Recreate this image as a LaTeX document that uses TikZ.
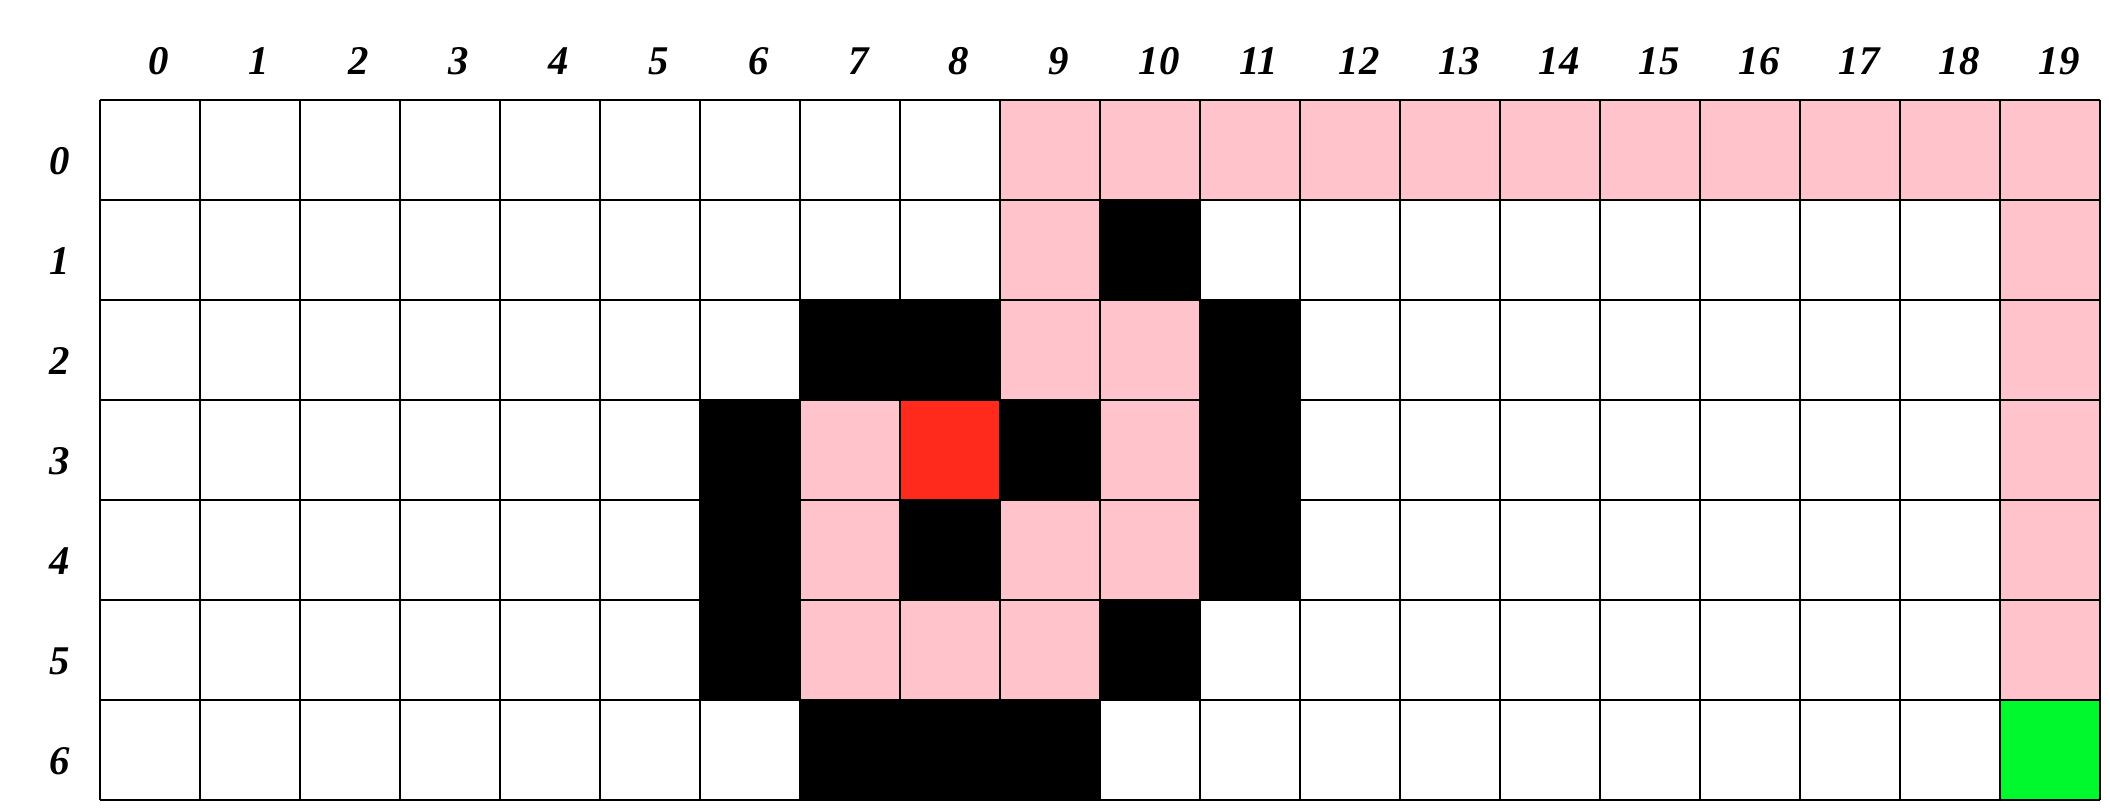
\documentclass[tikz,border=0pt]{standalone}
\usepackage{fontspec}
\setmainfont{Liberation Serif}
\definecolor{mazePink}{HTML}{FFC3CB}
\definecolor{mazeRed}{HTML}{FF2A1C}
\definecolor{mazeGreen}{HTML}{00F92C}
\tikzset{
  mazeLine/.style={
    draw=black,
    line width=0.6pt
  },
  mazeLabel/.style={
    font=\fontsize{11.6}{14}\selectfont\bfseries\itshape,
    inner sep=0pt,
    text=black
  },
  mazePath/.style={fill=mazePink},
  mazeWall/.style={fill=black},
  mazeStart/.style={fill=mazeRed},
  mazeGoal/.style={fill=mazeGreen}
}

\begin{document}
\begin{tikzpicture}[x=1cm,y=-1cm]
\useasboundingbox (0,0) rectangle (21.1,8.1);

% Path cells (column/row).
\foreach \c/\r in {9/0,10/0,11/0,12/0,13/0,14/0,15/0,16/0,17/0,18/0,19/0,
                   9/1,19/1,9/2,10/2,19/2,7/3,10/3,19/3,
                   7/4,9/4,10/4,19/4,7/5,8/5,9/5,19/5}
  \fill[mazePath] (\c+1,\r+1) rectangle ++(1,1);

% Obstacles.
\foreach \c/\r in {10/1,7/2,8/2,11/2,6/3,9/3,11/3,6/4,8/4,11/4,
                   6/5,10/5,7/6,8/6,9/6}
  \fill[mazeWall] (\c+1,\r+1) rectangle ++(1,1);

% Start and goal.
\fill[mazeStart] (9,4) rectangle ++(1,1);
\fill[mazeGoal] (20,7) rectangle ++(1,1);

% Grid lines.
\foreach \x in {1,...,21}
  \draw[mazeLine] (\x,1) -- (\x,8);
\foreach \y in {1,...,8}
  \draw[mazeLine] (1,\y) -- (21,\y);

% Column and row indices.
\foreach \c in {0,...,19}
  \node[mazeLabel] (col\c) at (\c+1.59,0.61) {\c};
\foreach \r in {0,...,6}
  \node[mazeLabel] (row\r) at (0.60,\r+1.61) {\r};

\end{tikzpicture}
\end{document}
